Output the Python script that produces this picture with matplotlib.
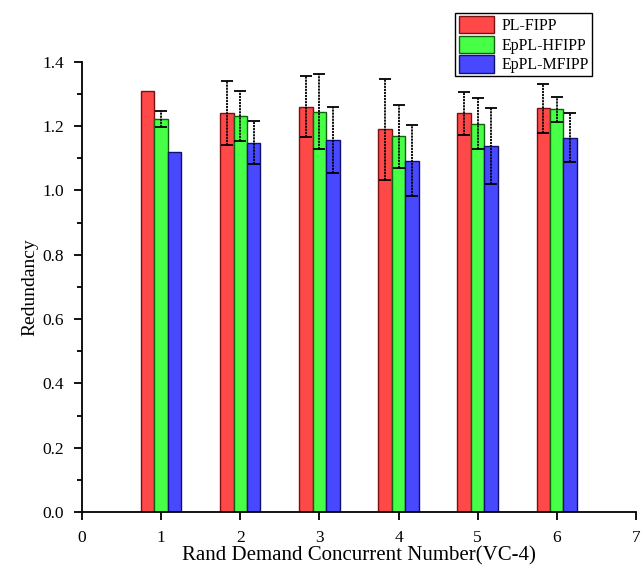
import numpy as np
import matplotlib.pyplot as plt
from matplotlib.ticker import MultipleLocator

plt.rcParams['font.family'] = ['Liberation Serif', 'DejaVu Serif']

x = [1, 2, 3, 4, 5, 6]
series = ["PL-FIPP", "EpPL-HFIPP", "EpPL-MFIPP"]
pl_fipp = [1.31, 1.24, 1.26, 1.19, 1.24, 1.255]
hfipp = [1.222, 1.232, 1.245, 1.168, 1.208, 1.252]
mfipp = [1.12, 1.148, 1.157, 1.093, 1.139, 1.164]
pl_err = [0.0, 0.10, 0.095, 0.157, 0.067, 0.076]
h_err = [0.024, 0.077, 0.117, 0.098, 0.079, 0.038]
m_err = [0.0, 0.067, 0.104, 0.11, 0.119, 0.076]

faces = ["#ff4848", "#48ff48", "#4848ff"]
edges = ["#7a1010", "#106010", "#101070"]

fig = plt.figure(figsize=(6.41, 5.78), dpi=100)
ax = fig.add_axes([0.128, 0.114, 0.864, 0.779])

w = 0.17
xs = np.array(x, dtype=float)
for i, (vals, errs) in enumerate([(pl_fipp, pl_err), (hfipp, h_err), (mfipp, m_err)]):
    pos = xs + (i - 1) * w
    ax.bar(pos, vals, width=w, color=faces[i], edgecolor=edges[i], linewidth=1.0,
           label=series[i], zorder=2)
    errs = np.array(errs)
    keep = errs > 0
    eb = ax.errorbar(pos[keep], np.array(vals)[keep], yerr=errs[keep], fmt="none",
                     ecolor="black", elinewidth=1.3, capsize=4, capthick=1.3, zorder=3)
    eb[2][0].set_linestyle((0, (1.2, 0.5)))

ax.set_xlim(0, 7)
ax.set_ylim(0, 1.4)
ax.xaxis.set_major_locator(MultipleLocator(1))
ax.yaxis.set_major_locator(MultipleLocator(0.2))
ax.yaxis.set_minor_locator(MultipleLocator(0.1))
ax.yaxis.set_major_formatter(plt.FormatStrFormatter("%.1f"))
ax.spines["top"].set_visible(False)
ax.spines["right"].set_visible(False)
ax.spines["left"].set_linewidth(1.3)
ax.spines["bottom"].set_linewidth(1.3)
ax.tick_params(axis="both", which="major", direction="out", length=6, width=1.3,
               labelsize=12.5, pad=7)
ax.tick_params(axis="y", which="minor", direction="out", length=3.5, width=1.3)

ax.set_xlabel("Rand Demand Concurrent Number(VC-4)", fontsize=15, labelpad=0)
ax.set_ylabel("Redundancy", fontsize=14, labelpad=3)

leg = fig.legend(loc="upper right", bbox_to_anchor=(0.924, 0.978), fontsize=11.5,
                 frameon=True, fancybox=False, edgecolor="black", framealpha=1,
                 handlelength=2.2, handleheight=1.3, handletextpad=0.5,
                 labelspacing=0.1, borderpad=0.2, borderaxespad=0)
leg.get_frame().set_linewidth(1.0)

plt.savefig("out.png", dpi=100)
plt.close()
